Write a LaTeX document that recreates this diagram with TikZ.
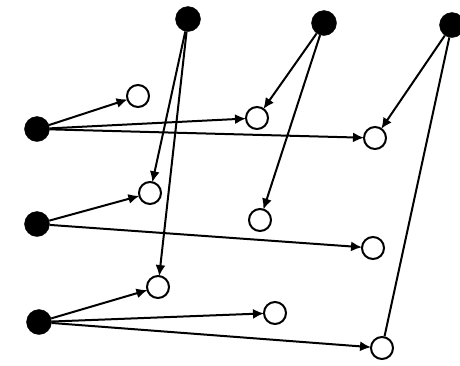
\documentclass[tikz,border=0pt]{standalone}
\usepackage{tikz}
\usetikzlibrary{arrows.meta}

\begin{document}
\begin{tikzpicture}[x=1pt, y=-1pt,
    full/.style={circle, fill=black, draw, inner sep=0pt, minimum size=25pt},
    empty/.style={circle, draw, line width=2pt, inner sep=0pt, minimum width=22pt, minimum height=20pt},
    link/.style={line width=2pt, -{Latex[length=11pt, width=10pt]}, shorten >=-1pt}]
    \useasboundingbox (0,0) rectangle (460,365);
    % black nodes
    \node (top1) [full] at (188,19) {};
    \node (top2) [full] at (324,23) {};
    \node (top3) [full] at (452,25) {};
    \node (left1) [full] at (37,129) {};
    \node (left2) [full] at (37,224) {};
    \node (left3) [full] at (39,322) {};
    % white nodes
    \node (a1) [empty] at (138,96) {};
    \node (a2) [empty] at (257,118) {};
    \node (a3) [empty] at (375,138) {};
    \node (b1) [empty] at (150,193) {};
    \node (b2) [empty] at (260,220) {};
    \node (b3) [empty] at (373,248) {};
    \node (c1) [empty] at (158,287) {};
    \node (c2) [empty] at (275,313) {};
    \node (c3) [empty] at (382,348) {};

    \draw [link] (left1) -- (a1);
    \draw [link] (left1) -- (a2);
    \draw [link] (left1) -- (a3);
    \draw [link] (left2) -- (b1);
    \draw [link] (left2) -- (b3);
    \draw [link] (left3) -- (c1);
    \draw [link] (left3) -- (c2);
    \draw [link] (left3) -- (c3);
    \draw [link] (top1) -- (b1);
    \draw [link] (top1) -- (c1);
    \draw [link] (top2) -- (a2);
    \draw [link] (top2) -- (b2);
    \draw [link] (top3) -- (a3);
    \draw [line width=2pt] (top3) -- (c3);
  \end{tikzpicture}
\end{document}
